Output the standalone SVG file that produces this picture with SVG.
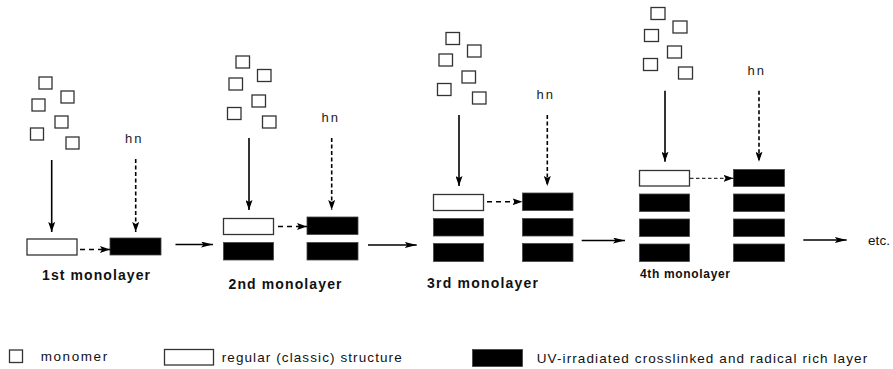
<svg xmlns="http://www.w3.org/2000/svg" width="893" height="369" viewBox="0 0 893 369">
<style>
text{font-family:"Liberation Sans",Arial,sans-serif;fill:#111}
.mono{fill:#fff;stroke:#333;stroke-width:1.3}
.reg{fill:#fff;stroke:#333;stroke-width:1.3}
.uv{fill:#000;stroke:#444;stroke-width:0.8}
.solid{stroke:#000;stroke-width:1.6;fill:none}
.dash{stroke:#000;stroke-width:1.6;fill:none;stroke-dasharray:4 2.5}
.dashh{stroke:#000;stroke-width:1.6;fill:none;stroke-dasharray:5 4}
.dashf{stroke:#000;stroke-width:1;fill:none;stroke-dasharray:3.5 2.5}
.hn{font-size:13px;fill:#222}
.lab{font-size:14px;font-weight:bold}
.lab4{font-size:12px;font-weight:bold}
.leg{font-size:13.5px}
</style>
<defs>
<marker id="ah" viewBox="0 0 10 7" refX="10" refY="3.5" markerWidth="10" markerHeight="7" markerUnits="userSpaceOnUse" orient="auto"><path d="M0,0 L10,3.5 L0,7 L2,3.5 z" fill="#000"/></marker>
<marker id="ahh" viewBox="0 0 12 6" refX="12" refY="3" markerWidth="12" markerHeight="6" markerUnits="userSpaceOnUse" orient="auto"><path d="M0,0 L12,3 L0,6 L2.5,3 z" fill="#000"/></marker>
</defs>

<g id="stage1">
<rect class="mono" x="39" y="77" width="13" height="12"/>
<rect class="mono" x="61" y="91" width="13" height="12"/>
<rect class="mono" x="32" y="99" width="13" height="12"/>
<rect class="mono" x="55" y="116" width="13" height="12"/>
<rect class="mono" x="30.5" y="128" width="13" height="12"/>
<rect class="mono" x="66" y="137" width="13" height="12"/>
<text class="hn" x="125" y="143" textLength="16.5" lengthAdjust="spacing">hn</text>
<rect class="reg" x="27" y="239" width="50" height="16"/>
<rect class="uv" x="110" y="238" width="51" height="17"/>
<text class="lab" x="42" y="280" textLength="108" lengthAdjust="spacing">1st monolayer</text>
</g>

<g id="stage2">
<rect class="mono" x="236" y="56" width="13.5" height="12"/>
<rect class="mono" x="257.5" y="69.5" width="13.5" height="12"/>
<rect class="mono" x="229" y="78" width="13.5" height="12"/>
<rect class="mono" x="252" y="95" width="13.5" height="12"/>
<rect class="mono" x="227.5" y="107.5" width="13.5" height="12"/>
<rect class="mono" x="262.5" y="116" width="13.5" height="12"/>
<text class="hn" x="321.5" y="122" textLength="16.5" lengthAdjust="spacing">hn</text>
<rect class="reg" x="223.5" y="218.5" width="50" height="16"/>
<rect class="uv" x="307" y="217" width="51" height="17.5"/>
<rect class="uv" x="223.5" y="242.5" width="50" height="17.5"/>
<rect class="uv" x="307" y="242.5" width="51" height="17.5"/>
<text class="lab" x="228.5" y="289" textLength="113" lengthAdjust="spacing">2nd monolayer</text>
</g>

<g id="stage3">
<rect class="mono" x="446" y="32.5" width="13.5" height="12"/>
<rect class="mono" x="467.5" y="45" width="13.5" height="12"/>
<rect class="mono" x="439" y="54" width="13.5" height="12"/>
<rect class="mono" x="462" y="71" width="13.5" height="12"/>
<rect class="mono" x="437.5" y="83.5" width="13.5" height="12"/>
<rect class="mono" x="472.5" y="92" width="13.5" height="12"/>
<text class="hn" x="536.5" y="99" textLength="16.5" lengthAdjust="spacing">hn</text>
<rect class="reg" x="433.5" y="194.5" width="50" height="16"/>
<rect class="uv" x="522.5" y="193" width="50.5" height="17.5"/>
<rect class="uv" x="433.5" y="218.5" width="50" height="17.5"/>
<rect class="uv" x="522.5" y="218.5" width="50.5" height="17.5"/>
<rect class="uv" x="433.5" y="243.5" width="50" height="18"/>
<rect class="uv" x="522.5" y="243.5" width="50.5" height="18"/>
<text class="lab" x="427" y="288" textLength="111" lengthAdjust="spacing">3rd monolayer</text>
</g>

<g id="stage4">
<rect class="mono" x="651" y="7.5" width="14" height="12"/>
<rect class="mono" x="673" y="21" width="14" height="12"/>
<rect class="mono" x="644.5" y="29.5" width="14" height="12"/>
<rect class="mono" x="667.5" y="46" width="14" height="12"/>
<rect class="mono" x="643.5" y="58.5" width="14" height="12"/>
<rect class="mono" x="678.5" y="67" width="14" height="12"/>
<text class="hn" x="747.5" y="75" textLength="16.5" lengthAdjust="spacing">hn</text>
<rect class="reg" x="639.5" y="170.5" width="50" height="15.5"/>
<rect class="uv" x="733.5" y="169.5" width="51" height="17"/>
<rect class="uv" x="639.5" y="194" width="50" height="17.5"/>
<rect class="uv" x="733.5" y="194" width="51" height="17.5"/>
<rect class="uv" x="639.5" y="219" width="50" height="17.5"/>
<rect class="uv" x="733.5" y="219" width="51" height="17.5"/>
<rect class="uv" x="639.5" y="244" width="50" height="17.5"/>
<rect class="uv" x="733.5" y="244" width="51" height="17.5"/>
<text class="lab4" x="640" y="278" textLength="90" lengthAdjust="spacing">4th monolayer</text>
</g>

<g id="etc">
<text class="leg" x="868" y="245" textLength="22" lengthAdjust="spacing">etc.</text>
</g>

<g id="connectors">
<line class="solid" x1="51.7" y1="160" x2="51.7" y2="232" marker-end="url(#ah)"/>
<line class="dash" x1="135.7" y1="159" x2="135.7" y2="232" marker-end="url(#ah)"/>
<line class="dashh" x1="80" y1="249.5" x2="110" y2="249.5" marker-end="url(#ah)"/>
<line class="solid" x1="175.5" y1="244.5" x2="213" y2="244.5" marker-end="url(#ahh)"/>

<line class="solid" x1="249" y1="138" x2="249" y2="210" marker-end="url(#ah)"/>
<line class="dash" x1="331.7" y1="138" x2="331.7" y2="210" marker-end="url(#ah)"/>
<line class="dashh" x1="278" y1="226.5" x2="307" y2="226.5" marker-end="url(#ah)"/>
<line class="solid" x1="368" y1="245" x2="416.7" y2="245" marker-end="url(#ahh)"/>

<line class="solid" x1="459" y1="115" x2="459" y2="186" marker-end="url(#ah)"/>
<line class="dash" x1="547.3" y1="115" x2="547.3" y2="186" marker-end="url(#ah)"/>
<line class="dashh" x1="487" y1="201.7" x2="522.5" y2="201.7" marker-end="url(#ah)"/>
<line class="solid" x1="581.7" y1="240.5" x2="625" y2="240.5" marker-end="url(#ahh)"/>

<line class="solid" x1="665" y1="90.7" x2="665" y2="161.7" marker-end="url(#ah)"/>
<line class="dash" x1="759" y1="90.7" x2="759" y2="161.7" marker-end="url(#ah)"/>
<line class="dashf" x1="690" y1="178.3" x2="733.5" y2="178.3" marker-end="url(#ah)"/>
<line class="solid" x1="803.3" y1="240" x2="846.7" y2="240" marker-end="url(#ahh)"/>
</g>

<g id="legend">
<g id="legend-monomer">
<rect class="mono" x="9.5" y="350" width="13" height="12.5"/>
<text class="leg" x="40.7" y="361" textLength="66.5" lengthAdjust="spacing">monomer</text>
</g>
<g id="legend-regular">
<rect class="reg" x="164.5" y="349.5" width="49" height="15.5"/>
<text class="leg" x="221.7" y="362" textLength="180" lengthAdjust="spacing">regular (classic) structure</text>
</g>
<g id="legend-uv">
<rect class="uv" x="472.5" y="349.5" width="50" height="17"/>
<text class="leg" x="536.7" y="362.5" textLength="330.5" lengthAdjust="spacing">UV-irradiated crosslinked and radical rich layer</text>
</g>
</g>
</svg>
